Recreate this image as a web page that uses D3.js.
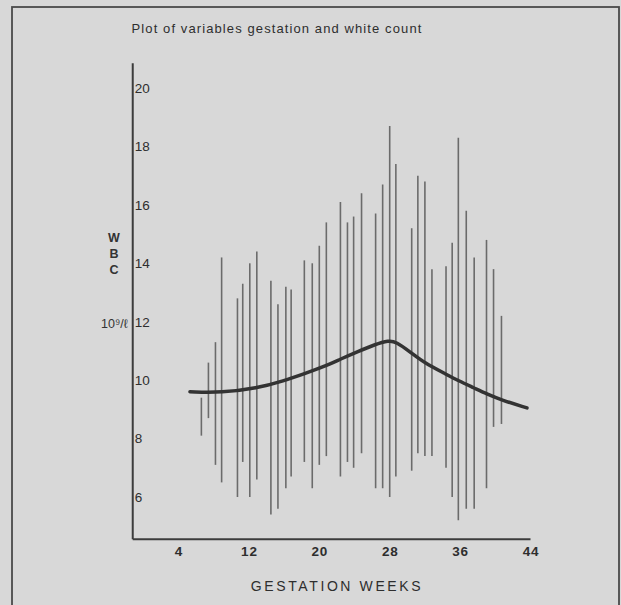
<!DOCTYPE html>
<html lang="en">

<head>
  <meta charset="utf-8">
  <title> Gestation and white count </title>
  <script src="https://d3js.org/d3.v7.min.js"> </script>
  <style>
    body {
      margin: 0;
      background: #d8d8d8;
      font-family: "Liberation Sans", Arial, sans-serif;
    }

    .range {
      stroke: #6b6b6b;
      stroke-width: 1.6;
    }

    .tick text {
      font-size: 13.5px;
      fill: #2e2e2e;
    }
  </style>
</head>

<body>
  <script>
    // range bars: gestation week, highest and lowest white count
    var weeks = [6.6, 7.4, 8.2, 8.9, 10.7, 11.3, 12.1, 12.9, 14.5, 15.3, 16.2, 16.8,
      18.3, 19.2, 20.0, 20.8, 22.4, 23.2, 23.9, 24.8, 26.4, 27.2, 28.0, 28.7,
      30.5, 31.2, 32.0, 32.8, 34.4, 35.1, 35.8, 36.7, 37.6, 39.0, 39.8, 40.7];
    var wbcHigh = [9.4, 10.6, 11.3, 14.2, 12.8, 13.3, 14.0, 14.4, 13.4, 12.6, 13.2, 13.1,
      14.1, 14.0, 14.6, 15.4, 16.1, 15.4, 15.6, 16.4, 15.7, 16.7, 18.7, 17.4,
      15.2, 17.0, 16.8, 13.8, 13.9, 14.7, 18.3, 15.8, 14.2, 14.8, 13.8, 12.2];
    var wbcLow = [8.1, 8.7, 7.1, 6.5, 6.0, 7.2, 6.0, 6.6, 5.4, 5.6, 6.3, 6.7,
      7.2, 6.3, 7.1, 7.4, 6.7, 7.2, 7.0, 7.5, 6.3, 6.3, 6.0, 6.7,
      6.9, 7.5, 7.4, 7.4, 7.0, 6.0, 5.2, 5.6, 5.6, 6.3, 8.4, 8.5];

    // fitted curve
    var curveWeeks = [5.3, 8.9, 12.9, 16.0, 18.3, 20.7, 22.4, 24.4, 26.3, 27.9, 28.7,
      30.4, 31.9, 34.3, 35.8, 37.6, 39.0, 40.7, 43.6];
    var curveWbc = [9.60, 9.57, 9.72, 9.98, 10.22, 10.48, 10.72, 10.98, 11.22, 11.36, 11.32,
      10.95, 10.60, 10.22, 9.98, 9.73, 9.53, 9.32, 9.05];

    var xTicks = [4, 12, 20, 28, 36, 44];
    var yTicks = [6, 8, 10, 12, 14, 16, 18, 20];

    var svg = d3.select("body")
      .append("svg")
      .attr("width", 621)
      .attr("height", 605);

    // frame
    svg.append("rect")
      .attr("x", 12)
      .attr("y", 7)
      .attr("width", 607)
      .attr("height", 610)
      .attr("fill", "#d8d8d8")
      .attr("stroke", "#4a4a4a")
      .attr("stroke-width", 1.8);

    var x = d3.scaleLinear().domain([4, 44]).range([178.5, 530.5]);
    var y = d3.scaleLinear().domain([6, 20]).range([497, 88]);

    // axis lines, longer than the tick range
    var axisX = x(-1.2);
    var axisY = y(4.55);
    svg.append("line")
      .attr("x1", axisX).attr("x2", axisX)
      .attr("y1", y(20.85)).attr("y2", axisY)
      .attr("stroke", "#3c3c3c")
      .attr("stroke-width", 2);
    svg.append("line")
      .attr("x1", axisX).attr("x2", x(44))
      .attr("y1", axisY).attr("y2", axisY)
      .attr("stroke", "#3c3c3c")
      .attr("stroke-width", 2);

    var yAxis = svg.append("g")
      .attr("transform", "translate(" + axisX + ",0)")
      .call(d3.axisRight(y).tickValues(yTicks).tickSize(0).tickPadding(2));
    yAxis.select(".domain").remove();

    var xAxis = svg.append("g")
      .attr("transform", "translate(0," + axisY + ")")
      .call(d3.axisBottom(x).tickValues(xTicks).tickSize(0).tickPadding(7));
    xAxis.select(".domain").remove();
    xAxis.selectAll("text").style("font-weight", "bold").style("letter-spacing", "0.8px");

    // range bars
    svg.selectAll(".range")
      .data(weeks)
      .enter().append("line")
      .attr("class", "range")
      .attr("x1", function(d) { return x(d); })
      .attr("x2", function(d) { return x(d); })
      .attr("y1", function(d, i) { return y(wbcHigh[i]); })
      .attr("y2", function(d, i) { return y(wbcLow[i]); });

    // smooth curve
    var line = d3.line()
      .x(function(d) { return x(d); })
      .y(function(d, i) { return y(curveWbc[i]); })
      .curve(d3.curveBasis);

    svg.append("path")
      .datum(curveWeeks)
      .attr("d", line)
      .attr("fill", "none")
      .attr("stroke", "#333")
      .attr("stroke-width", 3.5)
      .attr("stroke-linecap", "round");

    // title
    svg.append("text")
      .attr("x", 277)
      .attr("y", 33)
      .attr("text-anchor", "middle")
      .style("font-size", "13px")
      .style("letter-spacing", "1.1px")
      .style("fill", "#2e2e2e")
      .text("Plot of variables gestation and white count");

    // y label
    ["W", "B", "C"].forEach(function(c, i) {
      svg.append("text")
        .attr("x", 114)
        .attr("y", 242 + i * 16)
        .attr("text-anchor", "middle")
        .style("font-size", "12.5px")
        .style("font-weight", "bold")
        .style("fill", "#333")
        .text(c);
    });
    svg.append("text")
      .attr("x", 101)
      .attr("y", 328)
      .style("font-size", "12.5px")
      .style("fill", "#333")
      .text("10⁹/ℓ");

    // x label
    svg.append("text")
      .attr("x", 337)
      .attr("y", 591)
      .attr("text-anchor", "middle")
      .style("font-size", "14px")
      .style("letter-spacing", "2.6px")
      .style("fill", "#2e2e2e")
      .text("GESTATION WEEKS");
  </script>
</body>

</html>
